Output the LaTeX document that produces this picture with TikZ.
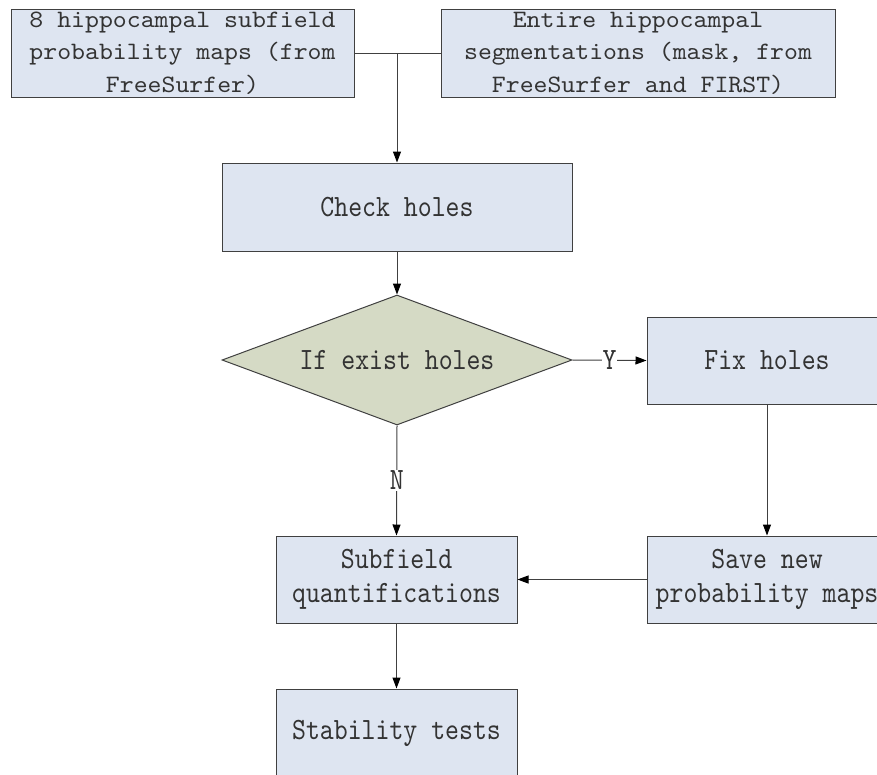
\documentclass[tikz,border=0pt]{standalone}
\usepackage{fontspec}
\newfontfamily\bigmono[FakeStretch=0.855]{lmmono10-regular.otf}
\newfontfamily\smallmono[FakeStretch=1.06]{lmmono10-regular.otf}
\usetikzlibrary{shapes.geometric,arrows.meta}
\definecolor{boxfill}{HTML}{DEE5F1}
\definecolor{decfill}{HTML}{D5DAC5}
\definecolor{ink}{HTML}{333333}
\definecolor{edge}{HTML}{404040}
\tikzset{
  procbox/.style={draw=edge, line width=1pt, fill=boxfill, rectangle, inner sep=0pt,
                  text=ink, align=center, font=\bigmono\fontsize{31}{34}\selectfont},
  decbox/.style={draw=edge, line width=1pt, fill=decfill, diamond, inner sep=0pt,
                 minimum width=350pt, minimum height=130pt, shape aspect=2.692},
  dectxt/.style={text=ink, inner sep=0pt, font=\bigmono\fontsize{31}{34}\selectfont},
  toptxt/.style={text=ink, align=center, inner sep=0pt,
                 font=\smallmono\fontsize{25}{32.5}\selectfont},
  flow/.style={draw=edge, line width=1pt, -{Triangle[length=11pt,width=8pt,color=black]}},
  link/.style={draw=edge, line width=1pt},
  tag/.style={fill=white, text=ink, inner sep=1pt, font=\bigmono\fontsize{31}{34}\selectfont}
}
\begin{document}
\begin{tikzpicture}[x=1pt,y=-1pt]
\useasboundingbox (0,0) rectangle (877,774);
\clip (0,0) rectangle (877,774);

% input boxes (text is taller than the frames)
\node[procbox, minimum width=343pt, minimum height=88pt] (maps) at (182.5,53) {};
\node[toptxt] (mapstxt) at (maps) {8 hippocampal subfield\\probability maps (from\\FreeSurfer)};
\node[procbox, minimum width=394pt, minimum height=88pt] (seg) at (638,53) {};
\node[toptxt] (segtxt) at (seg) {Entire hippocampal\\segmentations (mask, from\\FreeSurfer and FIRST)};

% processing steps
\node[procbox, minimum width=350pt, minimum height=88pt] (check) at (397,207) {Check holes};
\node[decbox] (exist) at (397,360) {};
\node[dectxt] (existtxt) at (exist) {If exist holes};
\node[procbox, minimum width=240pt, minimum height=87pt] (fix) at (767,360.5) {Fix holes};
\node[procbox, minimum width=240pt, minimum height=87pt] (save) at (767,579.5) {Save new\\probability maps};
\node[procbox, minimum width=241pt, minimum height=87pt] (quant) at (396.5,579.5) {Subfield\\quantifications};
\node[procbox, minimum width=241pt, minimum height=88pt] (stab) at (396.5,733) {Stability tests};

% connectors
\coordinate (join) at (397,53);
\draw[link] (maps.east) -- (seg.west);
\draw[flow] (join) -- (check.north);
\draw[flow] (check.south) -- (exist.north);
\draw[flow] (exist.east) -- node[tag] {Y} (fix.west);
\draw[flow] (exist.south) -- node[tag] {N} (quant.north);
\draw[flow] (fix.south) -- (save.north);
\draw[flow] (save.west) -- (quant.east);
\draw[flow] (quant.south) -- (stab.north);
\end{tikzpicture}
\end{document}
